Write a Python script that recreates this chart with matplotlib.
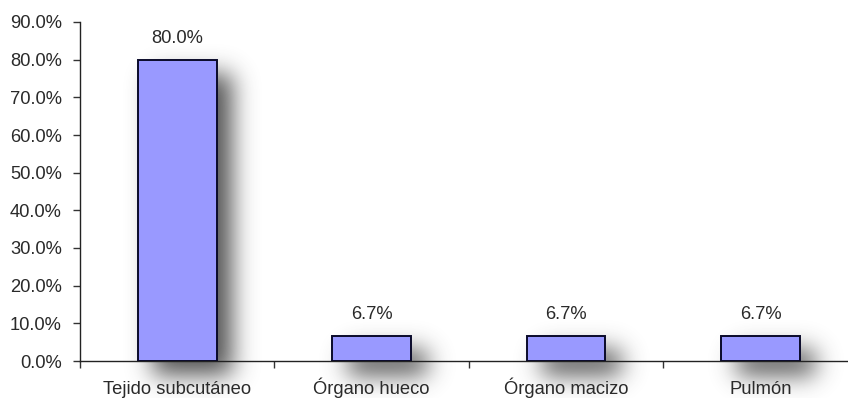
import numpy as np
import matplotlib
matplotlib.use("Agg")
import matplotlib.pyplot as plt
from matplotlib.ticker import FuncFormatter, FixedLocator

plt.rcParams['font.family'] = ['Liberation Sans', 'DejaVu Sans']

categories = ["Tejido subcutáneo", "Órgano hueco", "Órgano macizo", "Pulmón"]
values = [80.0, 6.7, 6.7, 6.7]
value_labels = ["80.0%", "6.7%", "6.7%", "6.7%"]

W, H, DPI = 848, 398, 100
FS = 13.2
TXT = "#2a2a2a"
fig = plt.figure(figsize=(W / DPI, H / DPI), dpi=DPI)
fig.patch.set_facecolor("white")

ax = fig.add_axes([80 / W, 37 / H, (W - 80) / W, (361 - 22) / H])
ax.patch.set_alpha(0)
ax.set_zorder(2)

x = np.arange(len(categories))
bars = ax.bar(x, values, width=0.405, color="#9999FF", edgecolor="#0a0a2a",
              linewidth=1.4, zorder=3)

ax.set_xlim(-0.5, 3.45)
ax.set_ylim(0, 90)
ax.set_yticks(np.arange(0, 91, 10))
ax.yaxis.set_major_formatter(FuncFormatter(lambda v, p: f"{v:.1f}%"))

ax.set_xticks(x)
ax.set_xticklabels(categories)
for lab in ax.get_xticklabels():
    lab.set_verticalalignment("baseline")
ax.xaxis.set_minor_locator(FixedLocator(np.arange(-0.5, len(categories), 1.0)))
ax.tick_params(axis="x", which="major", length=0, pad=24, labelsize=FS,
               labelcolor=TXT)
ax.tick_params(axis="x", which="minor", length=5, width=1, color="#333333",
               direction="out")
ax.tick_params(axis="y", length=5, width=1, color="#333333", pad=8,
               labelsize=FS, labelcolor=TXT)

for s in ("top", "right"):
    ax.spines[s].set_visible(False)
for s in ("left", "bottom"):
    ax.spines[s].set_color("#222222")
    ax.spines[s].set_linewidth(1.0)

for b, lab in zip(bars, value_labels):
    ax.annotate(lab, (b.get_x() + b.get_width() / 2, b.get_height()),
                xytext=(0, 15), textcoords="offset points",
                ha="center", va="center", fontsize=FS, color=TXT)

# soft drop shadow behind each bar, built from the bars' pixel extents
fig.canvas.draw()
mask = np.zeros((H, W))
dx, dy = 16, 14
for b in bars:
    ext = b.get_window_extent()
    x0, x1 = int(ext.x0) + dx, int(ext.x1) + dx
    y_top = H - int(ext.y1) + dy
    y_bot = H - int(ext.y0) + dy
    mask[max(y_top, 0):min(y_bot, H), max(x0, 0):min(x1, W)] = 1.0


def blur(a, sigma):
    r = int(3 * sigma)
    k = np.exp(-0.5 * (np.arange(-r, r + 1) / sigma) ** 2)
    k /= k.sum()
    a = np.apply_along_axis(lambda m: np.convolve(m, k, mode="same"), 0, a)
    a = np.apply_along_axis(lambda m: np.convolve(m, k, mode="same"), 1, a)
    return a


shadow = blur(mask, 12.0)
rgba = np.zeros((H, W, 4))
rgba[..., :3] = 0.25
rgba[..., 3] = np.clip(shadow * 0.9, 0, 1)

bg = fig.add_axes([0, 0, 1, 1])
bg.set_zorder(1)
bg.imshow(rgba, extent=(0, W, H, 0), interpolation="bilinear", aspect="auto")
bg.set_xlim(0, W)
bg.set_ylim(H, 0)
bg.axis("off")

fig.savefig("out.png", dpi=DPI, facecolor="white")
